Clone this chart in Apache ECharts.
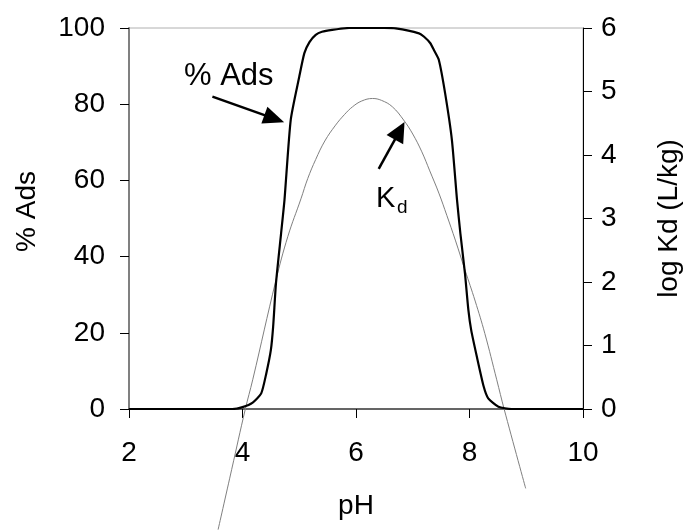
<!DOCTYPE html>
<html>
<head>
<meta charset="utf-8">
<script src="https://cdn.jsdelivr.net/npm/echarts@6/dist/echarts.min.js"></script>
<style>
html,body{margin:0;padding:0;background:#fff;}
#chart{width:691px;height:531px;}
</style>
</head>
<body>
<div id="chart"></div>
<script>
// pH vs % adsorbed (left axis)
const adsPH  = [2, 3, 3.82, 4.0, 4.18, 4.33, 4.42, 4.50, 4.54, 4.59, 4.68, 4.74, 4.85, 5.0, 5.09, 5.18, 5.29, 5.40, 5.58, 5.88, 6.5, 6.70, 7.11, 7.20, 7.31, 7.38, 7.46, 7.57, 7.69, 7.78, 7.84, 7.92, 7.98, 8.03, 8.13, 8.25, 8.33, 8.51, 8.74, 10];
const adsPct = [0, 0, 0, 0.5, 1.7, 4.1, 9.4, 15.5, 21.6, 33, 46.1, 54.9, 75.9, 87.2, 93.4, 96.3, 98.2, 99.0, 99.5, 100, 100, 99.9, 98.6, 97.7, 96, 94, 91.6, 82.9, 70.6, 54.9, 46, 35.6, 26, 20.7, 13.7, 5.9, 2.8, 0.6, 0, 0];
// pH vs log Kd (right axis)
const kdPH  = [3.57, 3.81, 4.05, 4.18, 4.59, 4.80, 5.03, 5.15, 5.29, 5.45, 5.64, 5.80, 5.94, 6.10, 6.29, 6.45, 6.64, 6.84, 7.00, 7.16, 7.30, 7.46, 7.60, 7.75, 7.92, 8.10, 8.27, 8.48, 8.61, 8.99];
const kdLog = [-1.9, -0.95, 0, 0.46, 2.03, 2.72, 3.31, 3.63, 3.93, 4.22, 4.47, 4.64, 4.76, 4.85, 4.89, 4.86, 4.76, 4.55, 4.33, 4.05, 3.75, 3.40, 3.05, 2.66, 2.19, 1.70, 1.19, 0.46, 0, -1.25];
// axis ticks
const xTicks = [2, 4, 6, 8, 10];
const leftTicks = [0, 20, 40, 60, 80, 100];
const rightTicks = [0, 1, 2, 3, 4, 5, 6];
// annotation arrows [pH, value] (tail -> head centre)
const adsArrow = [[3.47, 82.0], [4.56, 76.2]];
const kdArrow = [[6.40, 3.78], [6.77, 4.38]];

const FONT = 'Liberation Sans, Arial, sans-serif';
const FS = 28;

const chart = echarts.init(document.getElementById('chart'), null, {renderer: 'canvas'});
chart.setOption({
  animation: false,
  backgroundColor: '#fff',
  grid: {left: 129, right: 107, top: 28, bottom: 122, show: true, borderColor: '#b0b0b0', borderWidth: 1, backgroundColor: 'transparent'},
  xAxis: {
    type: 'value', min: xTicks[0], max: xTicks[xTicks.length - 1], interval: 2,
    name: 'pH', nameLocation: 'middle', nameGap: 83,
    nameTextStyle: {fontFamily: FONT, fontSize: FS, color: '#000'},
    axisLine: {show: true, onZero: false, lineStyle: {color: '#404040', width: 1.5}},
    axisTick: {show: true, inside: false, length: 9, lineStyle: {color: '#000', width: 1}},
    axisLabel: {fontFamily: FONT, fontSize: FS, color: '#000', margin: 30},
    splitLine: {show: false}
  },
  yAxis: [{
    type: 'value', min: leftTicks[0], max: leftTicks[leftTicks.length - 1], interval: 20, position: 'left',
    name: '% Ads', nameLocation: 'middle', nameGap: 88, nameRotate: 90,
    nameTextStyle: {fontFamily: FONT, fontSize: FS, color: '#000', padding: [0, 0, 0, 14]},
    axisLine: {show: true, lineStyle: {color: '#808080', width: 2}},
    axisTick: {show: true, length: 9, lineStyle: {color: '#000', width: 1}},
    axisLabel: {fontFamily: FONT, fontSize: FS, color: '#000', margin: 24},
    splitLine: {show: false}
  }, {
    type: 'value', min: rightTicks[0], max: rightTicks[rightTicks.length - 1], interval: 1, position: 'right',
    name: 'log Kd (L/kg)', nameLocation: 'middle', nameGap: 72, nameRotate: 90,
    nameTextStyle: {fontFamily: FONT, fontSize: FS, color: '#000'},
    axisLine: {show: true, lineStyle: {color: '#000', width: 1}},
    axisTick: {show: true, length: 9, lineStyle: {color: '#000', width: 1}},
    axisLabel: {fontFamily: FONT, fontSize: FS, color: '#000', margin: 18},
    splitLine: {show: false}
  }],
  series: [{
    name: 'Kd', type: 'line', yAxisIndex: 1, clip: false,
    data: kdPH.map((p, i) => [p, kdLog[i]]),
    showSymbol: false, smooth: 0.4,
    lineStyle: {color: '#808080', width: 1},
    markLine: {
      silent: true, symbol: ['none', 'triangle'], symbolSize: [19, 20],
      label: {show: false},
      lineStyle: {color: '#000', width: 2.5, type: 'solid'},
      data: [[{coord: kdArrow[0]}, {coord: kdArrow[1]}]]
    },
    z: 2
  }, {
    name: '% Ads', type: 'line', yAxisIndex: 0,
    data: adsPH.map((p, i) => [p, adsPct[i]]),
    showSymbol: false, smooth: 0.2,
    lineStyle: {color: '#000', width: 2.2, join: 'round'},
    markLine: {
      silent: true, symbol: ['none', 'triangle'], symbolSize: [18, 21],
      label: {show: false},
      lineStyle: {color: '#000', width: 2.5, type: 'solid'},
      data: [[{coord: adsArrow[0]}, {coord: adsArrow[1]}]]
    },
    z: 3
  }],
  graphic: [
    {type: 'text', left: 184, top: 61, style: {text: '% Ads', fontFamily: FONT, fontSize: 31, fill: '#000'}},
    {type: 'text', left: 376, top: 184, style: {text: 'K', fontFamily: FONT, fontSize: 29, fill: '#000'}},
    {type: 'text', left: 397, top: 198, style: {text: 'd', fontFamily: FONT, fontSize: 19, fill: '#000'}}
  ]
});
</script>
</body>
</html>
